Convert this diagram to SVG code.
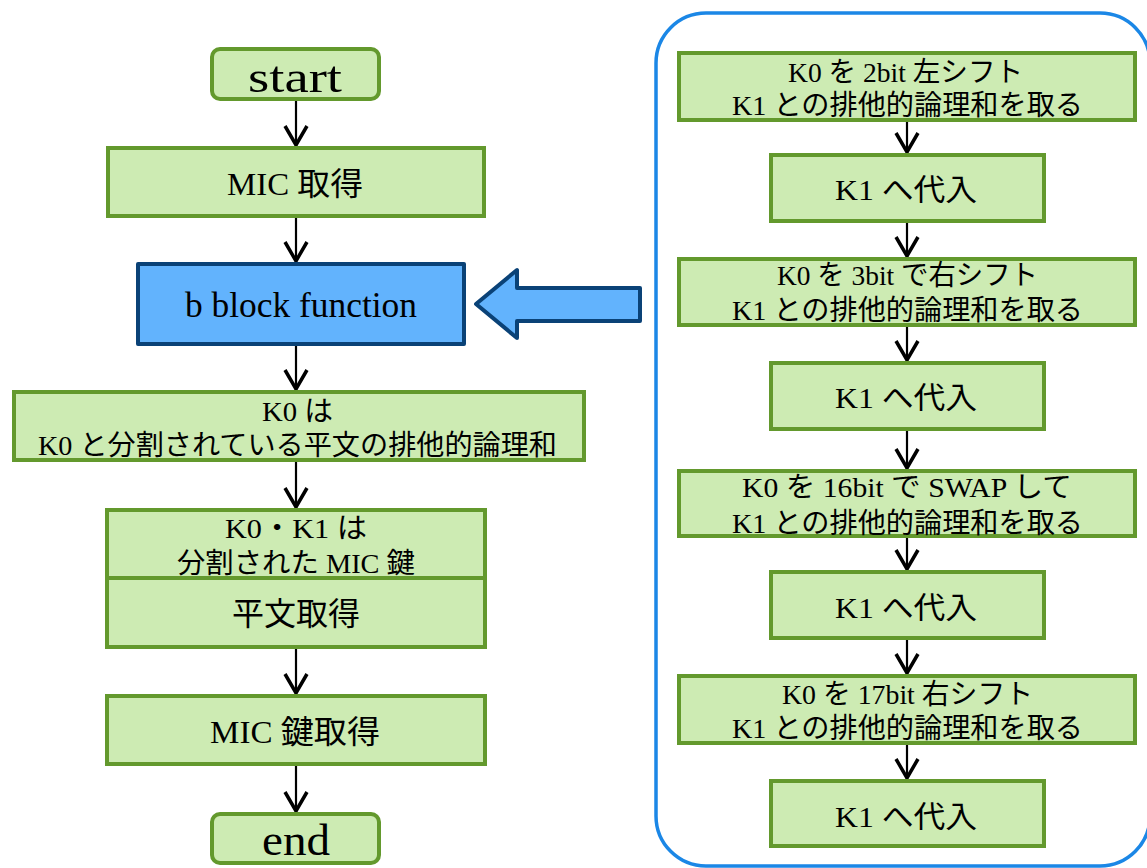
<svg xmlns="http://www.w3.org/2000/svg" width="1147" height="868" viewBox="0 0 1147 868">
<defs>
<style>
.g{fill:#cdebb3;stroke:#63992d;stroke-width:4}
.b{fill:#62b3fd;stroke:#0a4277;stroke-width:4;stroke-linejoin:round}
.t{font-family:"Liberation Serif","Noto Sans CJK JP",serif;fill:#000}
.c{stroke:#000;stroke-width:2.2;fill:none}
</style>
<marker id="v" markerUnits="userSpaceOnUse" markerWidth="30" markerHeight="30" viewBox="-24 -15 28 30" refX="0" refY="0" orient="auto" overflow="visible">
<path d="M-20,-11 L-1,0 L-20,11" fill="none" stroke="#000" stroke-width="3.5"/>
</marker>
</defs>
<rect width="1147" height="868" fill="#fff"/>

<g id="container">
<rect x="656" y="13" width="494" height="853" rx="50" fill="none" stroke="#1b87e6" stroke-width="3.5"/>
</g>

<g id="connectors">
<line class="c" x1="296" y1="101" x2="296" y2="146" marker-end="url(#v)"/>
<line class="c" x1="296" y1="218" x2="296" y2="262" marker-end="url(#v)"/>
<line class="c" x1="296" y1="346" x2="296" y2="390" marker-end="url(#v)"/>
<line class="c" x1="296" y1="462" x2="296" y2="508" marker-end="url(#v)"/>
<line class="c" x1="296" y1="649" x2="296" y2="694" marker-end="url(#v)"/>
<line class="c" x1="296" y1="766" x2="296" y2="812" marker-end="url(#v)"/>
<line class="c" x1="907" y1="122" x2="907" y2="153" marker-end="url(#v)"/>
<line class="c" x1="907" y1="223" x2="907" y2="257" marker-end="url(#v)"/>
<line class="c" x1="907" y1="327" x2="907" y2="361" marker-end="url(#v)"/>
<line class="c" x1="907" y1="431" x2="907" y2="469" marker-end="url(#v)"/>
<line class="c" x1="907" y1="538" x2="907" y2="570" marker-end="url(#v)"/>
<line class="c" x1="907" y1="640" x2="907" y2="674" marker-end="url(#v)"/>
<line class="c" x1="907" y1="745" x2="907" y2="779" marker-end="url(#v)"/>
</g>

<g id="big-arrow">
<polygon class="b" points="476,304 517,270 517,288 640,288 640,321 517,321 517,338"/>
</g>

<g id="start">
<rect class="g" x="212" y="49" width="167" height="50" rx="8"/>
<text class="t" x="248" y="92" font-size="44" textLength="94" lengthAdjust="spacingAndGlyphs">start</text>
</g>
<g id="mic-get">
<rect class="g" x="108" y="148" width="376" height="68"/>
<text class="t" x="227" y="195" font-size="32" textLength="136" lengthAdjust="spacingAndGlyphs">MIC 取得</text>
</g>
<g id="b-block">
<rect class="b" x="138" y="264" width="326" height="80"/>
<text class="t" x="185" y="317" font-size="35" textLength="232" lengthAdjust="spacingAndGlyphs">b block function</text>
</g>
<g id="k0-xor">
<rect class="g" x="14" y="392" width="570" height="68"/>
<text class="t" x="262" y="421" font-size="28" textLength="71" lengthAdjust="spacingAndGlyphs">K0 は</text>
<text class="t" x="38" y="455" font-size="28" textLength="519" lengthAdjust="spacingAndGlyphs">K0 と分割されている平文の排他的論理和</text>
</g>
<g id="k0k1">
<rect class="g" x="107" y="510" width="378" height="68"/>
<text class="t" x="225" y="538" font-size="28" textLength="142" lengthAdjust="spacingAndGlyphs">K0・K1 は</text>
<text class="t" x="177" y="573" font-size="28" textLength="238" lengthAdjust="spacingAndGlyphs">分割された MIC 鍵</text>
</g>
<g id="plaintext-get">
<rect class="g" x="107" y="578" width="378" height="69"/>
<text class="t" x="296" y="625" font-size="32" text-anchor="middle">平文取得</text>
</g>
<g id="mic-key-get">
<rect class="g" x="107" y="696" width="378" height="68"/>
<text class="t" x="210" y="743" font-size="32" textLength="170" lengthAdjust="spacingAndGlyphs">MIC 鍵取得</text>
</g>
<g id="end">
<rect class="g" x="212" y="814" width="167" height="49" rx="8"/>
<text class="t" x="262" y="855" font-size="44" textLength="68" lengthAdjust="spacingAndGlyphs">end</text>
</g>

<g id="r1">
<rect class="g" x="679" y="53" width="456" height="67"/>
<text class="t" x="788" y="82" font-size="28" textLength="235" lengthAdjust="spacingAndGlyphs">K0 を 2bit 左シフト</text>
<text class="t" x="732" y="115" font-size="28" textLength="351" lengthAdjust="spacingAndGlyphs">K1 との排他的論理和を取る</text>
</g>
<g id="r2">
<rect class="g" x="771" y="155" width="273" height="66"/>
<text class="t" x="835" y="200" font-size="30" textLength="142" lengthAdjust="spacingAndGlyphs">K1 へ代入</text>
</g>
<g id="r3">
<rect class="g" x="679" y="259" width="456" height="66"/>
<text class="t" x="777" y="285" font-size="28" textLength="261" lengthAdjust="spacingAndGlyphs">K0 を 3bit で右シフト</text>
<text class="t" x="732" y="320" font-size="28" textLength="351" lengthAdjust="spacingAndGlyphs">K1 との排他的論理和を取る</text>
</g>
<g id="r4">
<rect class="g" x="771" y="363" width="273" height="66"/>
<text class="t" x="835" y="408" font-size="30" textLength="142" lengthAdjust="spacingAndGlyphs">K1 へ代入</text>
</g>
<g id="r5">
<rect class="g" x="679" y="471" width="456" height="65"/>
<text class="t" x="742" y="497" font-size="28" textLength="330" lengthAdjust="spacingAndGlyphs">K0 を 16bit で SWAP して</text>
<text class="t" x="732" y="533" font-size="28" textLength="351" lengthAdjust="spacingAndGlyphs">K1 との排他的論理和を取る</text>
</g>
<g id="r6">
<rect class="g" x="771" y="572" width="273" height="66"/>
<text class="t" x="835" y="618" font-size="30" textLength="142" lengthAdjust="spacingAndGlyphs">K1 へ代入</text>
</g>
<g id="r7">
<rect class="g" x="679" y="676" width="456" height="67"/>
<text class="t" x="782" y="704" font-size="28" textLength="251" lengthAdjust="spacingAndGlyphs">K0 を 17bit 右シフト</text>
<text class="t" x="732" y="738" font-size="28" textLength="351" lengthAdjust="spacingAndGlyphs">K1 との排他的論理和を取る</text>
</g>
<g id="r8">
<rect class="g" x="771" y="781" width="273" height="65"/>
<text class="t" x="835" y="827" font-size="30" textLength="142" lengthAdjust="spacingAndGlyphs">K1 へ代入</text>
</g>
</svg>
